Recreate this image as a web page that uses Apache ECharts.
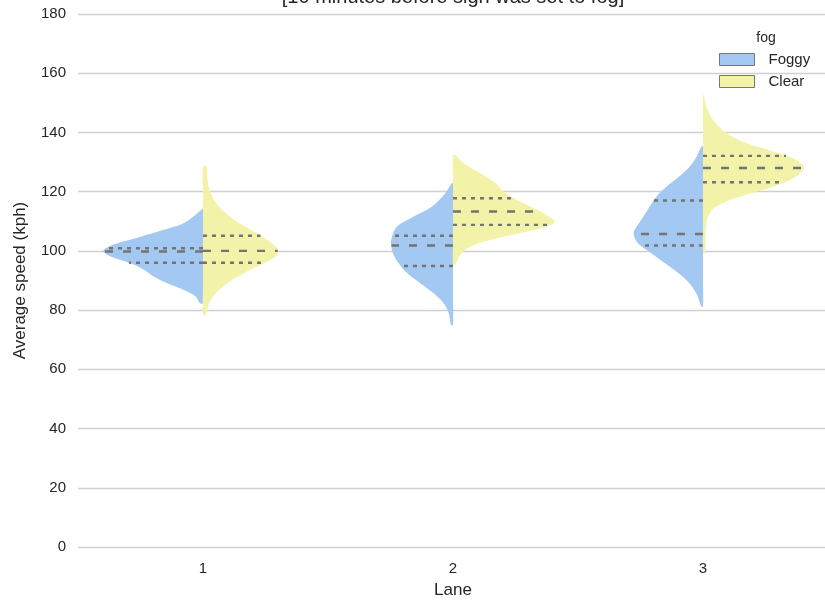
<!DOCTYPE html>
<html>
<head>
<meta charset="utf-8">
<script src="https://cdn.jsdelivr.net/npm/echarts@6/dist/echarts.min.js"></script>
<style>
  html, body { margin: 0; padding: 0; background: #fff; }
  #main { width: 825px; height: 600px; }
</style>
</head>
<body>
<div id="main"></div>
<script>
var lanes = ['1', '2', '3'];
var fogGroups = ['Foggy', 'Clear'];

// density outline per lane: [speed, relative width], top to bottom
var foggyLane1 = [[114.4,0],[112.7,.057],[109.4,.19],[107.1,.39],[104.8,.623],[102.6,.857],[100.9,.973],[99.8,.997],[98.1,.923],[95.8,.723],[93.6,.59],[91.3,.49],[89.1,.357],[86.8,.19],[84.6,.073],[82.3,.03]];
var foggyLane2 = [[122.9,.01],[119.5,.077],[115.0,.21],[111.6,.393],[108.2,.56],[104.8,.61],[102.6,.62],[99.2,.60],[95.8,.543],[92.5,.46],[89.1,.327],[85.7,.193],[82.3,.093],[79.0,.043],[75.0,.02]];
var foggyLane3 = [[135.2,.017],[130.7,.083],[126.2,.20],[121.7,.367],[118.3,.467],[115.0,.533],[110.5,.617],[107.1,.683],[105.4,.693],[102.6,.65],[99.2,.517],[94.7,.333],[90.2,.167],[85.7,.067],[81.2,.017]];

var clearLane1 = [[128.5,.037],[124.0,.043],[119.5,.077],[115.0,.16],[110.5,.31],[107.1,.477],[103.7,.643],[101.5,.727],[99.8,.75],[98.1,.727],[95.8,.61],[92.5,.41],[89.1,.243],[85.7,.127],[82.3,.06],[78.4,.027]];
var clearLane2 = [[132.4,.023],[129.6,.107],[126.2,.273],[122.9,.423],[120.0,.507],[117.2,.64],[113.9,.84],[111.6,.957],[109.9,1.017],[108.2,.94],[106.0,.673],[103.7,.373],[101.5,.173],[98.6,.073],[95.3,.023]];
var clearLane3 = [[152.7,.007],[148.8,.033],[144.3,.10],[139.8,.233],[136.4,.433],[133.6,.70],[131.3,.90],[128.3,1.007],[125.1,.933],[121.7,.70],[118.3,.367],[115.0,.133],[111.6,.05],[107.1,.027],[99.2,.02]];

// [q1, median, q3]
var foggyQuartiles = [[96.0, 99.8, 100.9], [94.9, 101.8, 105.1], [101.8, 105.7, 117.0]];
var clearQuartiles = [[96.0, 100.0, 105.1], [108.8, 113.3, 117.8], [123.2, 128.0, 132.1]];

var foggyProfiles = [foggyLane1, foggyLane2, foggyLane3];
var clearProfiles = [clearLane1, clearLane2, clearLane3];

var FONT = 'Liberation Sans, Arial, sans-serif';
var lineColor = '#737373';

// width of the outline at a given speed
function widthAt(prof, v) {
    for (var k = 0; k < prof.length - 1; k++) {
        var a = prof[k], b = prof[k + 1];
        if (v <= a[0] && v >= b[0]) {
            var t = (a[0] - v) / (a[0] - b[0]);
            return a[1] + (b[1] - a[1]) * t;
        }
    }
    return 0;
}

function makeRender(profiles, quartiles, side, color) {
    return function (params, api) {
        var i = params.dataIndex;
        var prof = profiles[i];
        var half = api.size([1, 0])[0] * 0.4;
        var cx = api.coord([i, 0])[0];
        var yTop = api.coord([i, prof[0][0]])[1];
        var yBot = api.coord([i, prof[prof.length - 1][0]])[1];
        var pts = [[cx, yTop]];
        for (var k = 0; k < prof.length; k++) {
            pts.push([cx + side * prof[k][1] * half, api.coord([i, prof[k][0]])[1]]);
        }
        pts.push([cx, yBot]);
        for (var m = 1; m < 6; m++) {
            pts.push([cx, yBot + (yTop - yBot) * m / 6]);
        }
        var children = [{
            type: 'polygon',
            shape: { points: pts, smooth: 0.35 },
            style: { fill: color, stroke: null }
        }];
        var q = quartiles[i];
        for (var j = 0; j < 3; j++) {
            var y = api.coord([i, q[j]])[1];
            var w = widthAt(prof, q[j]) * half;
            children.push({
                type: 'line',
                shape: { x1: cx, y1: y, x2: cx + side * w, y2: y },
                style: {
                    stroke: lineColor,
                    lineWidth: 2.4,
                    lineDash: j === 1 ? [8, 10] : [4, 5]
                }
            });
        }
        return { type: 'group', children: children };
    };
}

var chart = echarts.init(document.getElementById('main'));

var option = {
    animation: false,
    textStyle: { fontFamily: FONT },
    grid: { left: 78, top: 14, width: 750, height: 533, outerBoundsMode: 'none', containLabel: false },
    graphic: [
        {
            type: 'text', x: 453, y: 7,
            style: {
                text: '[10 minutes before sign was set to fog]',
                font: '20px ' + FONT, fill: '#262626',
                textAlign: 'center', textVerticalAlign: 'bottom'
            }
        },
        {
            type: 'text', x: 766, y: 38,
            style: {
                text: 'fog', font: '14px ' + FONT, fill: '#262626',
                textAlign: 'center', textVerticalAlign: 'middle'
            }
        }
    ],
    legend: {
        orient: 'vertical',
        left: 719, top: 52,
        padding: 0,
        itemWidth: 35, itemHeight: 12, itemGap: 7,
        textStyle: { fontSize: 15, color: '#262626', padding: [0, 0, 0, 9] },
        data: [
            { name: 'Foggy', icon: 'rect', itemStyle: { borderColor: '#777', borderWidth: 1 } },
            { name: 'Clear', icon: 'rect', itemStyle: { borderColor: '#777', borderWidth: 1 } }
        ]
    },
    xAxis: {
        type: 'category',
        data: lanes,
        name: 'Lane',
        nameLocation: 'middle',
        nameGap: 35,
        nameTextStyle: { fontSize: 17, color: '#262626' },
        axisLine: { show: false },
        axisTick: { show: false },
        axisLabel: { fontSize: 15, color: '#262626', margin: 14 }
    },
    yAxis: {
        type: 'value',
        min: 0, max: 180, interval: 20,
        name: 'Average speed (kph)',
        nameLocation: 'middle',
        nameGap: 49,
        nameTextStyle: { fontSize: 17, color: '#262626' },
        axisLine: { show: false },
        axisTick: { show: false },
        axisLabel: { fontSize: 15, color: '#262626', margin: 12 },
        splitLine: { lineStyle: { color: '#d0d0d0', width: 1.3 } }
    },
    series: [
        {
            name: fogGroups[0],
            type: 'custom',
            itemStyle: { color: '#a3c8f2' },
            renderItem: makeRender(foggyProfiles, foggyQuartiles, -1, '#a3c8f2'),
            data: lanes.map(function (l, i) { return [i]; }),
            encode: { x: 0 },
            z: 3
        },
        {
            name: fogGroups[1],
            type: 'custom',
            itemStyle: { color: '#f2f2a9' },
            renderItem: makeRender(clearProfiles, clearQuartiles, 1, '#f2f2a9'),
            data: lanes.map(function (l, i) { return [i]; }),
            encode: { x: 0 },
            z: 3
        }
    ]
};

chart.setOption(option);
</script>
</body>
</html>
